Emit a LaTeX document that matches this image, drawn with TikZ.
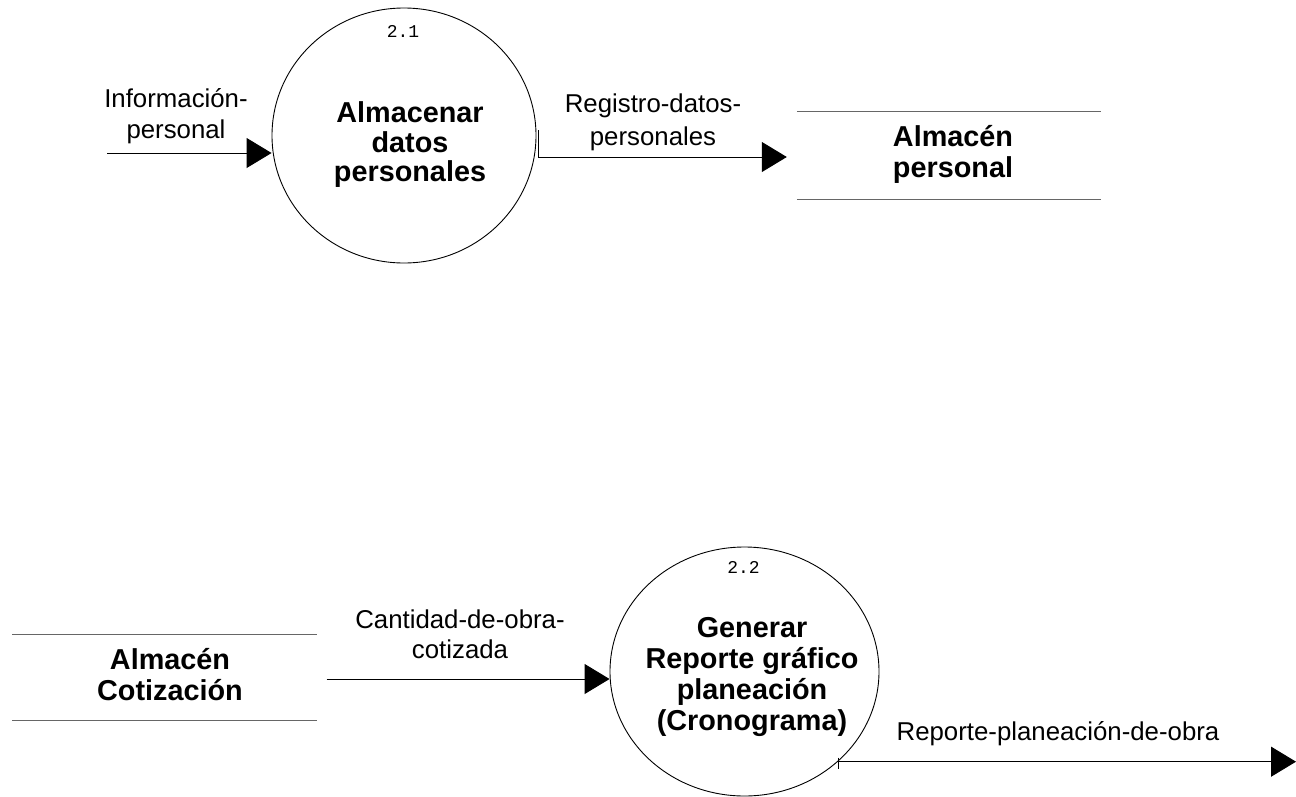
\documentclass[tikz,border=0pt]{standalone}
\usepackage{fontspec}
\setmainfont{Liberation Sans}
\setmonofont{Liberation Mono}
\usetikzlibrary{arrows.meta,shapes.geometric}
\begin{document}
\begin{tikzpicture}[x=1pt,y=-1pt,
  proc/.style={ellipse,draw,line width=0.9pt,inner sep=0pt},
  ptext/.style={font=\fontsize{28.8}{29.5}\selectfont\bfseries,align=center,inner sep=0pt},
  pnum/.style={font=\fontsize{18}{18}\selectfont\ttfamily,inner sep=0pt},
  storebox/.style={minimum width=304pt,inner sep=0pt},
  stext/.style={font=\fontsize{28.8}{31}\selectfont\bfseries,align=center,inner sep=0pt},
  storeline/.style={draw=black!60,line width=1.3pt},
  flow/.style={line width=1pt,-{Triangle[length=25pt,width=30pt]}},
  tick/.style={line width=0.8pt},
  lbl/.style={font=\fontsize{25.8}{31.7}\selectfont,align=center,inner sep=0pt}]
\useasboundingbox (0,0) rectangle (1296,796);

% process 2.1
\node[proc,minimum width=264pt,minimum height=255pt] (p21) at (404,135.5) {};
\node[pnum] (n21) at (403,31) {2.1};
\node[ptext,font=\fontsize{28.8}{29.5}\selectfont\bfseries] (t21) at (410,145) {Almacenar\\datos\\personales};

% process 2.2
\node[proc,minimum width=269pt,minimum height=249pt] (p22) at (744.5,671.5) {};
\node[pnum] (n22) at (743.5,567.5) {2.2};
\node[ptext,font=\fontsize{28.8}{30.8}\selectfont\bfseries] (t22) at (752,677) {Generar\\Reporte gráfico\\planeación\\(Cronograma)};

% data stores
\node[storebox,minimum height=87pt] (s1) at (949,155.5) {};
\draw[storeline] (s1.north west) -- (s1.north east) (s1.south west) -- (s1.south east);
\node[stext] (s1t) at (953,154) {Almacén\\personal};

\node[storebox,minimum height=86pt] (s2) at (164.5,677.5) {};
\draw[storeline] (s2.north west) -- (s2.north east) (s2.south west) -- (s2.south east);
\node[stext] (s2t) at (170,675) {Almacén\\Cotización};

% flow: Información-personal
\coordinate (a1) at (107,153);
\draw[flow] (a1) -- (a1 -| p21.west);
\node[lbl,font=\fontsize{25.8}{30.5}\selectfont] (l1) at (176,116) {Información-\\personal};

% flow: Registro-datos-personales
\coordinate (a2) at ([xshift=2pt,yshift=5.5pt]p21.east);
\coordinate (e2) at ([xshift=-10pt,yshift=-1.5pt]s1.west);
\draw[flow] (a2) |- (e2);
\node[lbl,font=\fontsize{25.8}{33}\selectfont] (l2) at (653,122) {Registro-datos-\\personales};

% flow: Cantidad-de-obra-cotizada
\coordinate (a3) at ([xshift=10pt,yshift=-1.5pt]s2.east);
\draw[flow] (a3) -- (a3 -| p22.west);
\node[lbl,font=\fontsize{25.8}{30}\selectfont] (l3) at (460,634) {Cantidad-de-obra-\\cotizada};

% flow: Reporte-planeación-de-obra
\coordinate (a4) at (p22.-44);
\coordinate (e4) at (1296,0);
\draw[tick] (a4) ++(0,-4) -- ++(0,11);
\draw[flow] (a4) -- (a4 -| e4);
\node[lbl] (l4) at (1058,734) {Reporte-planeación-de-obra};
\end{tikzpicture}
\end{document}
